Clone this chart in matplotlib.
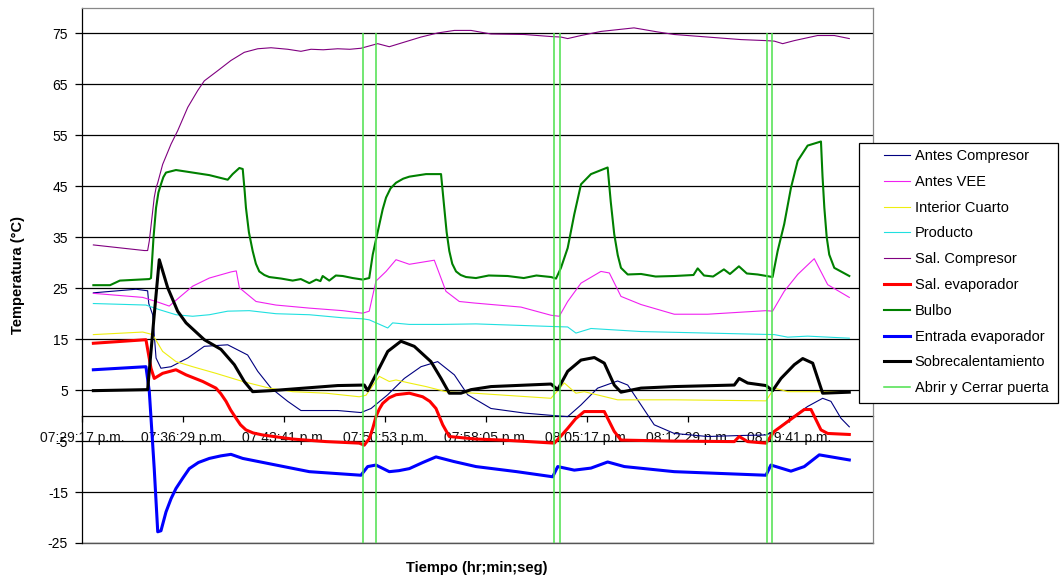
import matplotlib
matplotlib.use("Agg")
import matplotlib.pyplot as plt
from matplotlib.patches import Rectangle
import numpy as np

plt.rcParams['font.family'] = ['Liberation Sans', 'DejaVu Sans']
plt.rcParams['axes.unicode_minus'] = False

# Time axis: minutes elapsed since 07:29:17 p.m.
tick_minutes = [0.0, 7.2, 14.4, 21.6, 28.8, 36.0, 43.2, 50.4]
tick_labels = ["07:29:17 p.m.", "07:36:29 p.m.", "07:43:41 p.m.", "07:50:53 p.m.",
               "07:58:05 p.m.", "08:05:17 p.m.", "08:12:29 p.m.", "08:19:41 p.m."]

# Antes Compresor
t_antes_comp = [0.81, 3.85, 4.68, 4.76, 5.04, 5.28, 5.63, 6.35, 7.54, 8.72, 10.39, 11.81,
                12.53, 13.48, 14.67, 15.61, 18.23, 19.89, 20.61, 21.80, 22.98, 24.17, 25.36,
                26.55, 27.50, 29.16, 31.54, 33.68, 34.63, 35.58, 36.77, 38.19, 38.91, 39.86,
                40.80, 42.23, 44.61, 46.99, 48.77, 49.36, 50.55, 51.74, 52.81, 53.40, 54.11, 54.71]
v_antes_comp = [24.1, 24.8, 24.5, 22.0, 19.8, 11.3, 9.3, 9.6, 11.3, 13.6, 13.9, 11.9,
                8.7, 5.4, 2.8, 1.0, 1.0, 0.6, 1.4, 4.1, 7.3, 9.6, 10.6,
                8.0, 4.1, 1.4, 0.5, 0.0, -0.2, 2.1, 5.4, 6.8, 6.0, 2.1,
                -1.8, -3.5, -4.1, -3.9, -3.8, -3.1, -0.5, 1.8, 3.4, 2.8, -0.5, -2.2]

# Antes VEE
t_antes_vee = [0.81, 4.33, 5.28, 6.22, 6.94, 7.89, 9.08, 10.62, 11.00, 11.22, 12.41, 13.83,
               16.21, 18.59, 20.01, 20.48, 20.96, 21.68, 22.39, 23.34, 25.12, 25.95, 26.90,
               27.97, 31.30, 33.44, 34.03, 34.63, 35.58, 37.00, 37.60, 38.43, 39.86, 42.23,
               44.61, 48.77, 49.24, 50.07, 51.03, 52.21, 53.17, 54.71]
v_antes_vee = [24.0, 23.2, 22.4, 21.5, 23.2, 25.4, 27.0, 28.2, 28.4, 25.1, 22.4, 21.7,
               21.1, 20.6, 20.1, 20.5, 26.4, 28.3, 30.6, 29.7, 30.5, 24.4, 22.4,
               22.1, 21.3, 19.7, 19.5, 22.4, 26.0, 28.3, 28.0, 23.4, 21.8, 19.9,
               19.9, 20.6, 20.5, 24.4, 27.7, 30.8, 25.7, 23.2]

# Interior Cuarto
t_interior = [0.81, 4.33, 5.04, 5.75, 6.70, 7.89, 9.55, 11.46, 13.35, 15.02, 17.40, 19.77,
              20.25, 21.20, 21.91, 22.39, 23.34, 24.53, 25.95, 27.97, 33.44, 34.39, 35.22,
              35.81, 38.19, 42.23, 48.77, 49.36, 50.32, 54.71]
v_interior = [15.9, 16.4, 15.9, 12.6, 10.6, 9.6, 8.3, 6.7, 5.4, 4.7, 4.4, 3.7,
              4.0, 7.7, 6.7, 7.0, 6.4, 5.7, 4.7, 4.4, 3.4, 6.4, 4.4,
              4.7, 3.1, 3.1, 2.9, 5.4, 4.7, 4.7]

# Producto
t_producto = [0.81, 4.56, 5.51, 6.70, 7.89, 9.08, 10.39, 11.93, 13.83, 16.21, 18.59, 20.01,
              20.48, 21.80, 22.15, 23.34, 25.60, 28.09, 33.44, 34.63, 35.22, 36.29, 39.86,
              44.61, 49.36, 50.32, 51.74, 54.71]
v_producto = [22.0, 21.7, 20.8, 19.8, 19.5, 19.8, 20.5, 20.6, 20.0, 19.8, 19.2, 19.0,
              18.8, 17.2, 18.2, 17.9, 17.9, 18.0, 17.5, 17.4, 16.2, 17.1, 16.5,
              16.2, 15.9, 15.4, 15.6, 15.2]

# Sal. Compresor
t_sal_comp = [0.81, 4.44, 4.68, 4.80, 5.15, 5.28, 5.40, 5.75, 6.35, 6.82, 7.54, 8.25, 8.72,
              9.68, 10.62, 11.57, 12.53, 13.48, 14.67, 15.61, 16.33, 17.20, 18.23, 19.10, 19.89,
              21.08, 21.91, 22.98, 24.17, 25.36, 26.55, 27.74, 29.16, 31.54, 33.44, 34.15,
              34.63, 35.58, 37.00, 39.36, 41.05, 42.23, 44.61, 46.99, 48.77, 49.36, 49.96,
              50.79, 52.45, 53.64, 54.71]
v_sal_comp = [33.5, 32.4, 32.4, 34.3, 42.8, 44.7, 45.7, 49.3, 53.3, 55.9, 60.5, 63.8, 65.7,
              67.7, 69.7, 71.3, 72.0, 72.2, 71.9, 71.5, 71.9, 71.8, 72.0, 71.9, 72.1,
              73.0, 72.4, 73.3, 74.3, 75.1, 75.6, 75.6, 74.9, 74.8, 74.4, 74.3,
              74.0, 74.6, 75.4, 76.1, 75.3, 74.8, 74.3, 73.8, 73.6, 73.5, 73.0,
              73.6, 74.6, 74.6, 74.0]

# Sal. evaporador
t_sal_evap = [0.81, 4.56, 4.92, 5.15, 5.75, 6.70, 7.42, 8.61, 9.55, 9.90, 10.27, 10.60, 10.98,
              11.30, 11.69, 12.20, 12.88, 15.02, 17.40, 19.77, 20.13, 20.48, 20.73, 20.96, 21.20,
              21.44, 21.90, 22.39, 23.34, 24.29, 24.80, 25.24, 25.72, 26.19, 28.09, 30.00, 33.68,
              34.15, 34.63, 35.20, 35.81, 37.24, 37.95, 38.43, 42.23, 46.51, 46.86, 47.46, 48.77,
              49.36, 50.55, 51.50, 51.98, 52.69, 53.17, 54.71]
v_sal_evap = [14.2, 14.9, 9.3, 7.3, 8.3, 9.0, 8.0, 6.7, 5.4, 4.3, 2.8, 1.1, -0.5,
              -1.8, -2.8, -3.4, -3.8, -4.6, -5.1, -5.4, -5.8, -4.5, -2.5, -0.2, 1.3,
              2.4, 3.5, 4.1, 4.4, 3.7, 2.8, 1.4, -1.8, -4.1, -4.6, -4.8, -5.4,
              -4.0, -2.5, -0.6, 0.8, 0.8, -3.1, -4.8, -5.0, -5.1, -4.1, -5.1, -5.4,
              -3.1, -0.7, 1.2, 1.2, -2.8, -3.5, -3.7]

# Bulbo
t_bulbo = [0.81, 2.00, 2.70, 4.80, 4.92, 5.10, 5.28, 5.45, 5.63, 5.80, 5.99, 6.70, 7.42, 9.08,
           10.39, 10.74, 11.22, 11.46, 11.60, 11.69, 11.90, 12.17, 12.40, 12.64, 13.00, 13.35,
           14.20, 15.02, 15.60, 16.21, 16.70, 17.00, 17.16, 17.63, 18.10, 18.59, 19.30, 20.01,
           20.48, 20.73, 20.96, 21.20, 21.44, 21.68, 22.00, 22.39, 22.90, 23.34, 24.53, 25.60,
           25.83, 26.00, 26.19, 26.40, 26.67, 27.00, 27.38, 28.09, 29.00, 30.35, 31.50, 32.40,
           33.44, 33.80, 34.15, 34.63, 35.10, 35.58, 36.29, 37.48, 37.70, 37.95, 38.20, 38.43,
           38.91, 39.86, 40.90, 42.23, 43.60, 43.90, 44.35, 45.00, 45.77, 46.20, 46.84, 47.40,
           48.18, 49.24, 49.60, 50.07, 50.55, 51.03, 51.74, 52.69, 52.80, 52.93, 53.10, 53.28,
           53.64, 54.71]
v_bulbo = [25.6, 25.6, 26.5, 26.8, 27.0, 35.0, 40.8, 43.8, 45.4, 46.8, 47.7, 48.2, 47.9, 47.2,
           46.3, 47.4, 48.6, 48.4, 44.0, 40.8, 36.0, 32.3, 29.8, 28.3, 27.6, 27.2,
           26.9, 26.5, 26.8, 26.0, 26.7, 26.4, 27.4, 26.5, 27.5, 27.4, 27.0, 26.7,
           27.0, 31.6, 34.5, 37.5, 40.5, 42.8, 44.6, 45.7, 46.5, 46.9, 47.4, 47.4,
           40.8, 36.0, 32.3, 29.8, 28.3, 27.6, 27.2, 27.0, 27.5, 27.4, 27.0, 27.5,
           27.2, 26.9, 29.0, 32.9, 39.5, 45.4, 47.4, 48.7, 42.0, 35.6, 31.5, 29.0,
           27.7, 27.8, 27.3, 27.4, 27.6, 28.9, 27.5, 27.3, 28.7, 27.8, 29.3, 27.9,
           27.7, 27.2, 32.3, 37.6, 44.7, 50.0, 53.0, 53.8, 47.0, 40.8, 35.0, 31.6,
           29.0, 27.4]

# Entrada evaporador
t_entrada = [0.81, 4.56, 4.80, 5.15, 5.40, 5.63, 5.99, 6.35, 6.70, 7.20, 7.65, 8.30, 9.08, 9.90,
             10.62, 11.46, 13.83, 16.21, 19.89, 20.37, 20.96, 21.91, 22.60, 23.34, 24.30, 25.24,
             26.50, 28.09, 31.00, 33.56, 33.92, 35.10, 36.29, 37.48, 38.67, 42.23, 48.77, 49.12,
             50.55, 51.50, 52.57, 54.71]
v_entrada = [9.0, 9.6, 4.7, -10.4, -22.8, -22.6, -18.9, -16.3, -14.3, -12.2, -10.4, -9.2, -8.4,
             -7.9, -7.6, -8.4, -9.7, -11.0, -11.7, -10.0, -9.7, -11.0, -10.8, -10.4, -9.2, -8.1,
             -9.0, -10.0, -11.0, -12.0, -10.0, -10.7, -10.3, -9.1, -10.0, -11.0, -11.7, -9.7,
             -10.9, -10.0, -7.7, -8.7]

# Sobrecalentamiento
t_sobrecal = [0.81, 4.68, 5.15, 5.51, 6.11, 6.82, 7.42, 8.72, 9.91, 10.86, 11.57, 12.17,
              13.48, 15.85, 18.23, 20.13, 20.37, 21.08, 21.80, 22.74, 23.69, 24.88, 25.60,
              26.19, 27.02, 27.74, 29.16, 33.44, 33.92, 34.63, 35.58, 36.53, 37.24, 37.95,
              38.43, 39.86, 42.23, 46.51, 46.86, 47.46, 48.77, 49.24, 49.84, 50.79, 51.39,
              52.10, 52.81, 54.71]
v_sobrecal = [4.9, 5.1, 19.8, 30.6, 25.1, 20.5, 18.2, 14.9, 13.0, 10.0, 6.7, 4.7,
              4.9, 5.4, 5.9, 6.0, 4.9, 8.7, 12.6, 14.6, 13.6, 10.6, 7.3,
              4.4, 4.4, 5.1, 5.7, 6.2, 5.1, 8.7, 10.9, 11.4, 10.3, 6.0,
              4.6, 5.4, 5.7, 6.0, 7.3, 6.4, 5.9, 4.9, 7.3, 10.0, 11.2,
              10.3, 4.4, 4.6]

# Abrir y Cerrar puerta: door open / close instants
door_minutes = [20.01, 20.96, 33.63, 34.10, 48.84, 49.21]
door_low, door_high = -25, 75

series = [
    ("Antes Compresor", t_antes_comp, v_antes_comp, "#000080", 0.8),
    ("Antes VEE", t_antes_vee, v_antes_vee, "#F020F0", 0.8),
    ("Interior Cuarto", t_interior, v_interior, "#EEEE10", 0.8),
    ("Producto", t_producto, v_producto, "#20E0E0", 0.8),
    ("Sal. Compresor", t_sal_comp, v_sal_comp, "#800080", 0.8),
    ("Sal. evaporador", t_sal_evap, v_sal_evap, "#FF0000", 2.2),
    ("Bulbo", t_bulbo, v_bulbo, "#008000", 1.5),
    ("Entrada evaporador", t_entrada, v_entrada, "#0000FF", 2.2),
    ("Sobrecalentamiento", t_sobrecal, v_sobrecal, "#000000", 2.2),
]

W, H = 1060, 582
fig = plt.figure(figsize=(W / 100, H / 100), dpi=100)
ax = fig.add_axes([82 / W, 1 - 543 / H, (873 - 82) / W, (543 - 8) / H])

handles = []
for name, t, v, color, lw in series:
    ln, = ax.plot(t, v, color=color, lw=lw, label=name, solid_joinstyle='round', zorder=2)
    handles.append(ln)

ax.vlines(door_minutes, door_low, door_high, color="#4CE04C", lw=1.1, zorder=3)
door_handle, = ax.plot([], [], color="#4CE04C", lw=1.1, label="Abrir y Cerrar puerta")
handles.append(door_handle)

ax.set_xlim(0, 56.4)
ax.set_ylim(-25, 80)
ax.set_yticks(np.arange(-25, 76, 10))
ax.set_xticks(tick_minutes)
ax.set_xticklabels(tick_labels)
ax.yaxis.grid(True, color="black", lw=0.9)
ax.set_axisbelow(True)

ax.tick_params(axis='y', direction='out', length=5, width=0.9, pad=5, labelsize=10, colors='black')
ax.tick_params(axis='x', direction='out', length=4, width=0.9, pad=7, labelsize=10, colors='black')
ax.tick_params(axis='x', labelcolor='#111111')

for side in ("top", "right"):
    ax.spines[side].set_color("#888888")
    ax.spines[side].set_linewidth(0.9)
ax.spines["left"].set_color("black")
ax.spines["left"].set_linewidth(0.9)
ax.spines["bottom"].set_position(("data", 0))
ax.spines["bottom"].set_color("black")
ax.spines["bottom"].set_linewidth(0.9)
ax.spines["bottom"].set_zorder(1)
ax.plot([0, 1], [0, 0], transform=ax.transAxes, color="#555555", lw=1.0, clip_on=False, zorder=1)

fig.text(18 / W, 1 - 275 / H, "Temperatura (°C)", rotation=90, ha="center", va="center",
         fontsize=10.5, fontweight="bold")
fig.text(477 / W, 1 - 568 / H, "Tiempo (hr;min;seg)", ha="center", va="center",
         fontsize=10.5, fontweight="bold")

# Legend box
fig.patches.append(Rectangle((859 / W, 1 - 403 / H), (1058 - 859) / W, (403 - 143) / H,
                             transform=fig.transFigure, facecolor="white", edgecolor="black",
                             lw=0.9, zorder=5))
leg = fig.legend(handles=handles, loc="upper left", bbox_to_anchor=(884 / W, 1 - 149 / H),
                 frameon=False, fontsize=10.5, handlelength=1.8, handletextpad=0.3,
                 labelspacing=0.81, borderpad=0, borderaxespad=0)
leg.set_zorder(6)

fig.savefig("out.png", dpi=100)
